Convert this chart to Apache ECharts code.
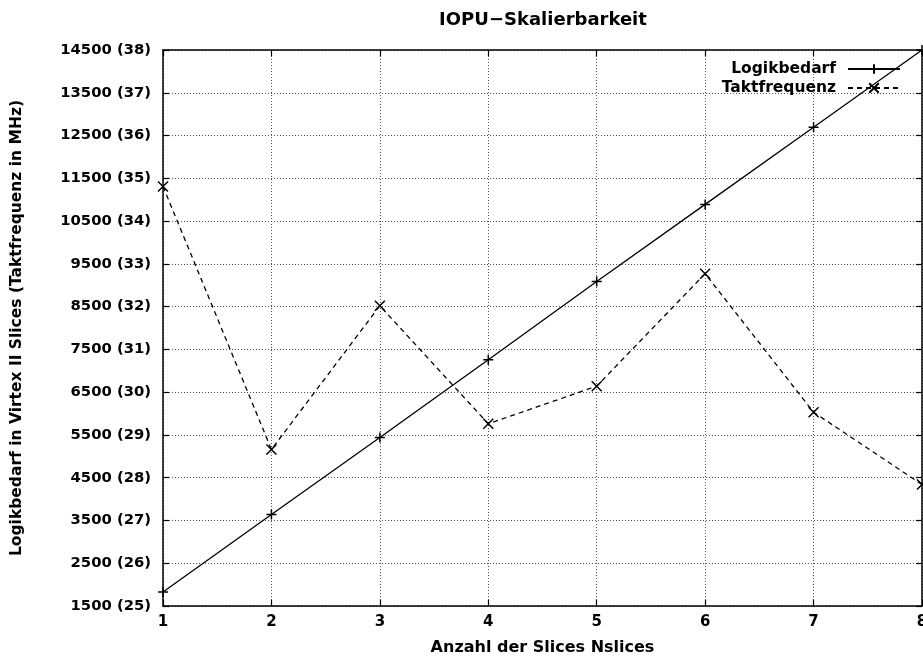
<!DOCTYPE html>
<html>
<head>
<meta charset="utf-8">
<script src="https://cdn.jsdelivr.net/npm/echarts@6/dist/echarts.min.js"></script>
<style>
html,body{margin:0;padding:0;background:#fff;}
#chart{width:923px;height:660px;}
</style>
</head>
<body>
<div id="chart"></div>
<script>
// ---- data ----
const slices = [1, 2, 3, 4, 5, 6, 7, 8];
const logikbedarf = [1828, 3640, 5440, 7259, 9085, 10890, 12695, 14500];
const taktfrequenzMHz = [34.81, 28.66, 32.02, 29.26, 30.14, 32.77, 29.53, 27.84];
const yTickValues = [1500, 2500, 3500, 4500, 5500, 6500, 7500, 8500, 9500, 10500, 11500, 12500, 13500, 14500];
const yTickLabels = ["1500 (25)", "2500 (26)", "3500 (27)", "4500 (28)", "5500 (29)", "6500 (30)", "7500 (31)", "8500 (32)", "9500 (33)", "10500 (34)", "11500 (35)", "12500 (36)", "13500 (37)", "14500 (38)"];
const xTickLabels = ["1", "2", "3", "4", "5", "6", "7", "8"];

// frequency is shown on the same axis: 25 MHz -> 1500, +1 MHz -> +1000
const freqToAxis = f => 1500 + (f - 25) * 1000;

const FONT = "DejaVu Sans";
const chart = echarts.init(document.getElementById('chart'), null, {renderer: 'canvas'});

const plusPath = 'path://M0,-10 L0,10 M-10,0 L10,0';
const crossPath = 'path://M-10,-10 L10,10 M-10,10 L10,-10';

const tickStyle = {show: true, inside: true, length: 6, lineStyle: {color: '#000', width: 1.2}};
const axisLineStyle = {show: true, lineStyle: {color: '#000', width: 1.5}};

chart.setOption({
  animation: false,
  backgroundColor: '#fff',
  title: {
    text: 'IOPU\u2212Skalierbarkeit',
    left: 538, top: 6, textAlign: 'center',
    textStyle: {fontFamily: FONT, fontWeight: 'bold', fontSize: 18, color: '#000'}
  },
  legend: {
    orient: 'vertical',
    right: 17, top: 56,
    align: 'right',
    itemWidth: 52, itemHeight: 12, itemGap: 3,
    textStyle: {fontFamily: FONT, fontWeight: 'bold', fontSize: 15.5, color: '#000', padding: [0, 7, 0, 0]},
    data: ['Logikbedarf', 'Taktfrequenz']
  },
  grid: {left: 163, right: 1, top: 50, bottom: 54, containLabel: false, outerBoundsMode: 'none'},
  xAxis: [{
    type: 'value', min: 1, max: 8, interval: 1,
    name: 'Anzahl der Slices Nslices', nameLocation: 'middle', nameGap: 34,
    nameTextStyle: {fontFamily: FONT, fontWeight: 'bold', fontSize: 16, color: '#000'},
    axisLine: axisLineStyle, axisTick: tickStyle,
    axisLabel: {fontFamily: FONT, fontWeight: 'bold', fontSize: 15, color: '#000', margin: 9,
      formatter: v => xTickLabels[slices.indexOf(v)] || ''},
    splitLine: {show: true, lineStyle: {type: [1, 2], color: '#555', width: 1}}
  }, {
    type: 'value', min: 1, max: 8, interval: 1, position: 'top',
    axisLine: axisLineStyle, axisTick: tickStyle, axisLabel: {show: false}, splitLine: {show: false}
  }],
  yAxis: [{
    type: 'value', min: 1500, max: 14500, interval: 1000,
    name: 'Logikbedarf in Virtex II Slices (Taktfrequenz in MHz)', nameLocation: 'middle', nameGap: 138,
    nameTextStyle: {fontFamily: FONT, fontWeight: 'bold', fontSize: 15.5, color: '#000'},
    axisLine: axisLineStyle, axisTick: tickStyle,
    axisLabel: {fontFamily: FONT, fontWeight: 'bold', fontSize: 14.8, color: '#000', margin: 12,
      formatter: v => yTickLabels[yTickValues.indexOf(v)] || ''},
    splitLine: {show: true, lineStyle: {type: [1, 2], color: '#555', width: 1}}
  }, {
    type: 'value', min: 1500, max: 14500, interval: 1000, position: 'right',
    axisLine: axisLineStyle, axisTick: tickStyle, axisLabel: {show: false}, splitLine: {show: false}
  }],
  series: [{
    name: 'Logikbedarf', type: 'line',
    data: slices.map((x, i) => [x, logikbedarf[i]]),
    symbol: plusPath, symbolSize: 10, showAllSymbol: true,
    lineStyle: {color: '#000', width: 1.3, type: 'solid'},
    itemStyle: {color: '#000', borderColor: '#000', borderWidth: 1.5},
    z: 3
  }, {
    name: 'Taktfrequenz', type: 'line',
    data: slices.map((x, i) => [x, freqToAxis(taktfrequenzMHz[i])]),
    symbol: crossPath, symbolSize: 10, showAllSymbol: true,
    lineStyle: {color: '#000', width: 1.3, type: [5, 4]},
    itemStyle: {color: '#000', borderColor: '#000', borderWidth: 1.5},
    z: 3
  }]
});
</script>
</body>
</html>
